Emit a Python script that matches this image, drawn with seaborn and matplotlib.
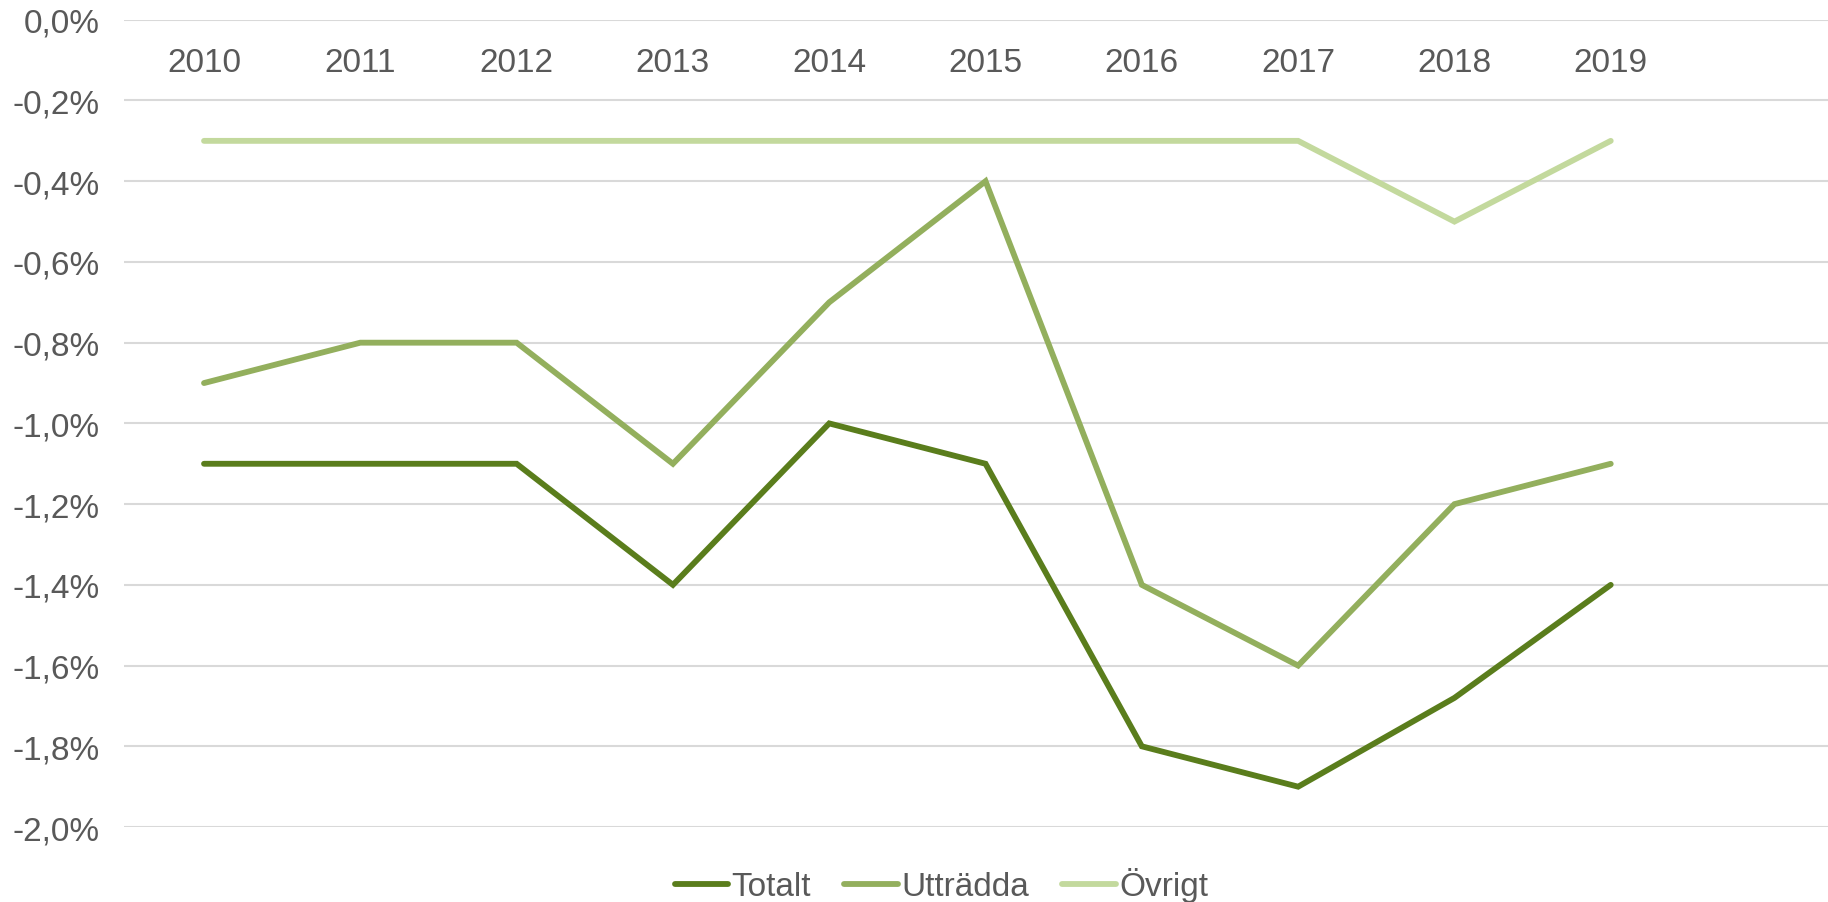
import matplotlib
matplotlib.use("Agg")
import matplotlib.pyplot as plt
from matplotlib.ticker import FuncFormatter, MultipleLocator
from matplotlib.lines import Line2D
import seaborn as sns
import pandas as pd

# data (percent)
years = ["2010", "2011", "2012", "2013", "2014", "2015", "2016", "2017", "2018", "2019"]
totalt = [-1.1, -1.1, -1.1, -1.4, -1.0, -1.1, -1.8, -1.9, -1.68, -1.4]
uttradda = [-0.9, -0.8, -0.8, -1.1, -0.7, -0.4, -1.4, -1.6, -1.2, -1.1]
ovrigt = [-0.3, -0.3, -0.3, -0.3, -0.3, -0.3, -0.3, -0.3, -0.5, -0.3]

series = ["Totalt", "Utträdda", "Övrigt"]
colors = {"Totalt": "#5A7D1C", "Utträdda": "#93AF5D", "Övrigt": "#C3D99D"}

df = pd.concat([
    pd.DataFrame({"x": range(len(years)), "value": vals, "serie": name})
    for name, vals in zip(series, [totalt, uttradda, ovrigt])
])

sns.set_theme(style="white")
plt.rcParams["font.family"] = ["Liberation Sans", "DejaVu Sans"]
text_col = "#595959"
fs = 24
lw = 4.2

fig = plt.figure(figsize=(18.28, 9.03), dpi=100)
ax = fig.add_axes([0.068, 0.083, 0.932, 0.894])

sns.lineplot(data=df, x="x", y="value", hue="serie", palette=colors,
             linewidth=lw, ax=ax, legend=False, sort=False)
for ln in ax.lines:
    ln.set_solid_capstyle("round")
    ln.set_solid_joinstyle("miter")

ax.set_ylim(-2.0, 0.0)
ax.set_xlim(-0.51, 10.39)
ax.yaxis.set_major_locator(MultipleLocator(0.2))
ax.yaxis.set_major_formatter(FuncFormatter(
    lambda v, p: ("%.1f%%" % (0.0 if abs(v) < 1e-9 else v)).replace(".", ",")))
ax.set_xticks(range(len(years)))
ax.set_xticklabels(years)

ax.grid(axis="y", color="#D9D9D9", linewidth=1.5)
ax.set_axisbelow(True)
for s in ["left", "right", "top"]:
    ax.spines[s].set_visible(False)
ax.spines["bottom"].set_position(("data", 0))
ax.spines["bottom"].set_visible(False)

ax.tick_params(axis="x", length=0, pad=19.5, labelsize=fs, labelcolor=text_col)
ax.tick_params(axis="y", length=0, pad=18, labelsize=fs, labelcolor=text_col)
ax.set_xlabel("")
ax.set_ylabel("")

handles = [Line2D([0], [0], color=colors[n], linewidth=lw, solid_capstyle="round")
           for n in series]
fig.legend(handles, series, loc="center", bbox_to_anchor=(0.515, 0.019), ncol=3,
           frameon=False, fontsize=fs, handlelength=1.6, handletextpad=0.1,
           columnspacing=1.0, labelcolor=text_col)

fig.savefig("out.png", dpi=100, facecolor="white")
